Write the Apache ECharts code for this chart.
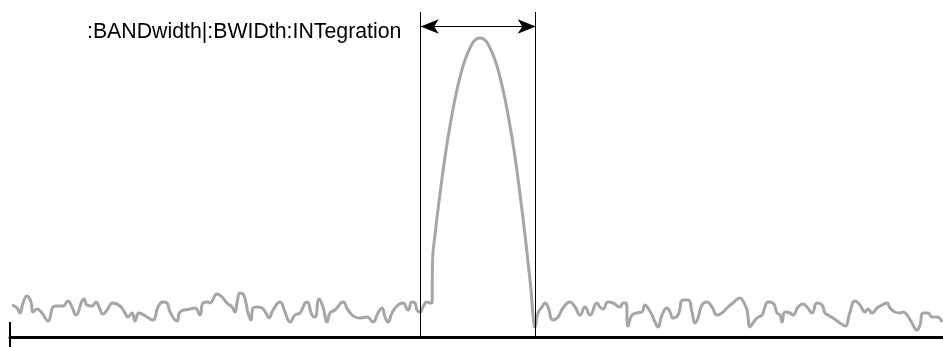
<!DOCTYPE html>
<html>
<head>
<meta charset="utf-8">
<script src="https://cdn.jsdelivr.net/npm/echarts@6/dist/echarts.min.js"></script>
<style>
  html, body { margin: 0; padding: 0; background: #fff; }
  #chart { width: 943px; height: 347px; }
</style>
</head>
<body>
<div id="chart"></div>
<script>
// Spectrum trace: noise floor, the carrier, then noise again
const freq = [
  2, 7, 10, 13, 17, 21, 23, 27, 32, 38, 43, 46, 53, 58, 62, 66, 72, 74, 77, 82,
  86, 89, 93, 97, 103, 110, 115, 118, 122, 125, 129, 137, 143, 148, 153, 157, 160, 167, 170, 180,
  185, 190, 193, 198, 200, 207, 212, 217, 222, 225, 227, 230, 233, 236, 238, 241, 243, 247, 252, 257,
  259, 263, 270, 275, 280, 285, 290, 295, 297, 302, 305, 309, 313, 317, 320, 325, 333, 338, 345, 350,
  357, 363, 368, 372, 375, 378, 382, 388, 393, 398, 402, 405, 407, 410, 413, 417, 420, 422,
  422.5, 425, 430, 435, 440, 445, 450, 455, 460, 465, 470, 475, 480, 485, 490, 495, 500, 505, 510, 515, 518, 521, 523, 525,
  528, 532, 535, 538, 543, 548, 553, 560, 565, 570, 575, 580, 587, 590, 593, 598, 603, 610, 613, 616,
  618, 622, 627, 632, 635, 638, 642, 645, 648, 652, 657, 660, 663, 668, 673, 678, 682, 685, 688, 692,
  697, 702, 707, 712, 717, 723, 730, 733, 737, 740, 743, 747, 752, 755, 758, 763, 767, 770, 772, 775,
  780, 783, 788, 793, 797, 802, 807, 812, 815, 818, 823, 830, 835, 840, 845, 850, 855, 858, 862, 867,
  872, 877, 880, 885, 890, 893, 897, 902, 907, 910, 913, 918, 922, 927, 932
];
const level = [
  32, 29, 24, 34, 41, 35, 25, 28, 24, 16, 30, 31, 31, 36, 30, 22, 36, 38, 32, 31,
  35, 30, 23, 27, 34, 31, 24, 20, 24, 16, 24, 20, 17, 30, 35, 34, 25, 16, 25, 28,
  29, 22, 34, 35, 34, 43, 40, 34, 30, 25, 34, 44, 43, 34, 24, 17, 29, 30, 29, 22,
  19, 27, 35, 25, 15, 22, 24, 34, 35, 22, 20, 38, 30, 15, 24, 27, 35, 27, 20, 19,
  20, 15, 24, 29, 20, 15, 24, 32, 34, 27, 35, 34, 27, 25, 30, 35, 34, 34,
  75, 102, 143, 180, 211, 238, 260, 277, 289, 297, 299, 297, 289, 277, 260, 238, 211, 180, 143, 102, 75, 47, 22, 10,
  24, 30, 34, 30, 17, 20, 29, 35, 30, 22, 30, 22, 34, 30, 28, 35, 34, 30, 34, 34,
  11, 22, 24, 25, 32, 29, 22, 15, 10, 22, 29, 25, 19, 22, 37, 37, 25, 14, 19, 32,
  35, 30, 22, 24, 29, 34, 39, 36, 27, 10, 14, 19, 22, 30, 35, 34, 24, 22, 15, 25,
  24, 22, 30, 33, 30, 24, 34, 32, 24, 22, 19, 14, 11, 25, 36, 32, 25, 28, 24, 29,
  32, 34, 29, 25, 24, 25, 22, 14, 7, 12, 24, 24, 20, 20, 15
];

// Integration bandwidth edges and marker heights
const bandEdges = [410.7, 525.7];
const edgeTop = 325;
const arrowLevel = 310.5;
const label = ':BANDwidth|:BWIDth:INTegration';

const trace = freq.map((f, i) => [f, level[i]]);

const chart = echarts.init(document.getElementById('chart'), null, { renderer: 'canvas' });

chart.setOption({
  animation: false,
  backgroundColor: '#ffffff',
  grid: { left: 10, right: 0, top: 0, bottom: 0 },
  xAxis: {
    type: 'value',
    min: 0,
    max: 933,
    axisLine: { show: true, onZero: true, lineStyle: { color: '#000', width: 3 } },
    axisTick: { show: false },
    axisLabel: { show: false },
    splitLine: { show: false }
  },
  yAxis: {
    type: 'value',
    min: -10,
    max: 337,
    axisLine: { show: false },
    axisTick: { show: false },
    axisLabel: { show: false },
    splitLine: { show: false }
  },
  graphic: [{
    type: 'text',
    left: 87,
    top: 22,
    style: {
      text: label,
      fill: '#000',
      font: '21.3px "Liberation Sans", Arial, sans-serif'
    }
  }],
  series: [
    {
      type: 'line',
      data: trace,
      showSymbol: false,
      smooth: 0.5,
      lineStyle: { color: '#a6a6a6', width: 3 },
      z: 3
    },
    {
      type: 'line',
      data: [],
      markLine: {
        silent: true,
        symbol: 'none',
        label: { show: false },
        lineStyle: { color: '#000', width: 1, type: 'solid' },
        data: [
          [{ coord: [bandEdges[0], 0] }, { coord: [bandEdges[0], edgeTop] }],
          [{ coord: [bandEdges[1], 0] }, { coord: [bandEdges[1], edgeTop] }],
          [
            { coord: [bandEdges[0], arrowLevel], symbol: 'arrow', symbolSize: [11, 18] },
            { coord: [bandEdges[1], arrowLevel], symbol: 'arrow', symbolSize: [11, 18] }
          ],
          [
            { coord: [0, 15], lineStyle: { width: 2 } },
            { coord: [0, -10] }
          ]
        ]
      },
      z: 4
    }
  ]
});
</script>
</body>
</html>
